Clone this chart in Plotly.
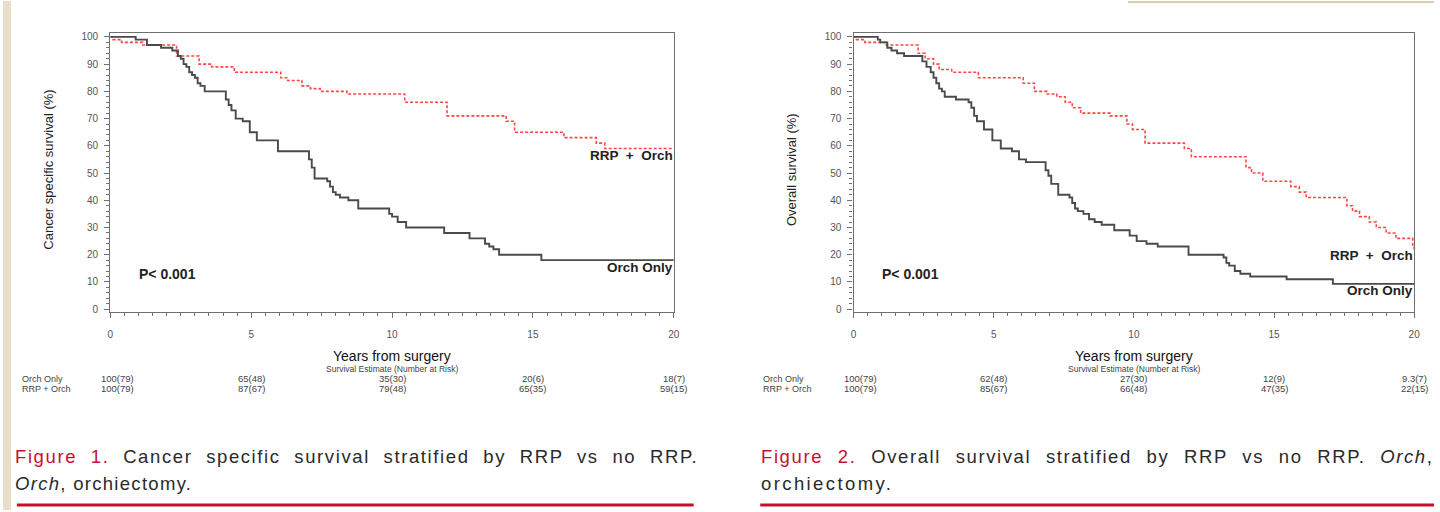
import plotly.graph_objects as go

# ---------------- data ----------------
years_ticks = [0, 5, 10, 15, 20]

# Figure 1: cancer specific survival
css_orch_t = [0, 0.9, 1.3, 1.8, 2.2, 2.4, 2.5, 2.6, 2.7, 2.8, 2.9, 3.0, 3.1, 3.2, 3.35, 4.1, 4.2, 4.3, 4.45,
              4.7, 4.95, 5.2, 5.95, 7.05, 7.15, 7.25, 7.7, 7.8, 7.9, 8.0, 8.15, 8.45, 8.8, 9.9, 10.0, 10.2,
              10.5, 11.85, 12.75, 13.3, 13.45, 13.6, 13.8, 15.3, 20]
css_orch_s = [100, 99, 97, 96, 95, 93, 92, 90, 89, 87, 86, 85, 83, 82, 80, 77, 75, 73, 70,
              69, 65, 62, 58, 55, 52, 48, 47, 45, 43, 42, 41, 40, 37, 35, 34, 32,
              30, 28, 26, 24, 23, 22, 20, 18, 18]
css_rrp_t = [0, 0.1, 0.4, 1.15, 2.35, 3.15, 3.6, 4.4, 6.05, 6.3, 6.8, 7.1, 7.45, 8.4, 10.45, 11.95, 14.05,
             14.35, 16.1, 17.25, 17.55, 20]
css_rrp_s = [100, 99, 98, 97, 93, 90, 89, 87, 85, 84, 82, 81, 80, 79, 76, 71, 69,
             65, 63, 61, 59, 59]

# Figure 2: overall survival
os_orch_t = [0, 0.86, 0.95, 1.2, 1.35, 1.55, 1.8, 2.45, 2.6, 2.75, 2.85, 2.95, 3.05, 3.15, 3.25, 3.65, 4.1,
             4.2, 4.3, 4.4, 4.65, 4.95, 5.25, 5.65, 5.9, 6.15, 6.85, 6.95, 7.05, 7.3, 7.7, 7.8, 7.9, 8.0,
             8.2, 8.4, 8.6, 8.85, 9.3, 9.85, 10.1, 10.45, 10.85, 11.95, 13.2, 13.3, 13.4, 13.6, 13.8,
             14.15, 15.45, 17.1, 20]
os_orch_s = [100, 99, 98, 96, 95, 94, 93, 91, 89, 87, 85, 83, 81, 80, 78, 77, 76,
             74, 71, 69, 66, 62, 59, 58, 55, 54, 51, 49, 46, 42, 41, 39, 37, 36,
             35, 33, 32, 31, 29, 27, 25, 24, 23, 20, 19, 17, 16, 14, 13,
             12, 11, 9.3, 9.3]
os_rrp_t = [0, 0.1, 0.4, 1.15, 2.3, 2.55, 2.85, 3.05, 3.5, 4.45, 6.05, 6.45, 6.9, 7.25, 7.55, 7.8, 8.1,
            9.15, 9.75, 9.95, 10.4, 11.8, 12.05, 14.0, 14.2, 14.6, 15.6, 15.9, 16.15, 17.6, 17.8, 18.05,
            18.4, 18.65, 19.0, 19.35, 19.95, 20]
os_rrp_s = [100, 99, 98, 97, 94, 92, 90, 88, 87, 85, 83, 80, 79, 78, 76, 74, 72,
            71, 68, 66, 61, 59, 56, 52, 50, 47, 45, 43, 41, 38, 36, 34,
            32, 30, 28, 26, 23, 22]

# number-at-risk tables
risk_groups = ["Orch Only", "RRP + Orch"]
fig1_risk_orch = ["100(79)", "65(48)", "35(30)", "20(6)", "18(7)"]
fig1_risk_rrp = ["100(79)", "87(67)", "79(48)", "65(35)", "59(15)"]
fig2_risk_orch = ["100(79)", "62(48)", "27(30)", "12(9)", "9.3(7)"]
fig2_risk_rrp = ["100(79)", "85(67)", "66(48)", "47(35)", "22(15)"]

# ---------------- helpers ----------------
W, H = 1440, 512


def px(p):
    return p / W


def py(p):
    return 1 - p / H


FONT = "Liberation Sans"
BLACK_LINE = "#4a4a4a"
RED_LINE = "#ff4646"
CAPTION_RED = "#c8102e"

fig = go.Figure()

for (xa, ya, ot, os_, rt, rs) in [("x", "y", css_orch_t, css_orch_s, css_rrp_t, css_rrp_s),
                                   ("x2", "y2", os_orch_t, os_orch_s, os_rrp_t, os_rrp_s)]:
    fig.add_trace(go.Scatter(x=rt, y=rs, mode="lines", line_shape="hv", xaxis=xa, yaxis=ya,
                             line=dict(color=RED_LINE, width=1.6, dash="3px,2px"), showlegend=False,
                             hoverinfo="skip"))
    fig.add_trace(go.Scatter(x=ot, y=os_, mode="lines", line_shape="hv", xaxis=xa, yaxis=ya,
                             line=dict(color=BLACK_LINE, width=1.9), showlegend=False, hoverinfo="skip"))

axis_common = dict(showgrid=False, zeroline=False, showline=True, linecolor="#707070", linewidth=1.4,
                   mirror=True, ticks="outside", tickcolor="#707070",
                   tickfont=dict(family=FONT, size=10, color="#555555"))

yr = [-1.1, 101.5]
ydom = [py(313), py(32)]
xminor = dict(dtick=0.5, ticklen=3, ticks="outside", tickcolor="#707070")
yminor = dict(dtick=2, ticklen=3, ticks="outside", tickcolor="#707070")

fig.update_layout(
    width=W, height=H, margin=dict(l=0, r=0, t=0, b=0),
    paper_bgcolor="white", plot_bgcolor="white",
    xaxis=dict(domain=[px(108), px(675)], range=[0, 20], tickvals=years_ticks, ticklen=5,
               ticklabelstandoff=8, minor=xminor, anchor="y", **axis_common),
    yaxis=dict(domain=ydom, range=yr, dtick=10, ticklen=5, ticklabelstandoff=4,
               minor=yminor, anchor="x", **axis_common),
    xaxis2=dict(domain=[px(856), px(1420)], range=[0, 20], tickvals=years_ticks, ticklen=5,
                ticklabelstandoff=8, minor=xminor, anchor="y2", **axis_common),
    yaxis2=dict(domain=ydom, range=yr, dtick=10, ticklen=5, ticklabelstandoff=4,
                minor=yminor, anchor="x2", **axis_common),
)

ann = []
shapes = []


def text(x, y, s, size, color="#222222", xanchor="center", yanchor="middle", xref="paper",
         yref="paper", angle=0, family=FONT, xshift=0):
    ann.append(dict(x=x, y=y, text=s, xref=xref, yref=yref, showarrow=False, xanchor=xanchor,
                    yanchor=yanchor, textangle=angle, xshift=xshift,
                    font=dict(family=family, size=size, color=color)))


panels = [
    dict(xa="x", ya="y", left=108, right=675, ytitle="Cancer specific survival (%)", ytx=45,
         rowlab_x=21, orch=fig1_risk_orch, rrp=fig1_risk_rrp, lab_rrp=56.6, lab_orch=15.3),
    dict(xa="x2", ya="y2", left=856, right=1420, ytitle="Overall survival (%)", ytx=793,
         rowlab_x=767, orch=fig2_risk_orch, rrp=fig2_risk_rrp, lab_rrp=19.7, lab_orch=6.9),
]

for p in panels:
    cx = px((p["left"] + p["right"]) / 2)
    text(px(p["ytx"]), py(170), p["ytitle"], 13, angle=-90)
    text(cx, py(357), "Years from surgery", 14, color="#111111")
    text(cx, py(370), "Survival Estimate (Number at Risk)", 8.5, color="#444444")
    text(1.05, 12.8, "<b>P&lt; 0.001</b>", 14, color="#222222", xanchor="left", xref=p["xa"],
         yref=p["ya"], xshift=-3)
    text(19.97, p["lab_rrp"], "<b>RRP  +  Orch</b>", 13.5, color="#222222", xanchor="right",
         xref=p["xa"], yref=p["ya"], xshift=2)
    text(19.97, p["lab_orch"], "<b>Orch Only</b>", 13.5, color="#222222", xanchor="right",
         xref=p["xa"], yref=p["ya"], xshift=2)
    # at-risk table
    text(px(p["rowlab_x"]), py(380), risk_groups[0], 9, color="#444444", xanchor="left", xshift=-4)
    text(px(p["rowlab_x"]), py(390), risk_groups[1], 9, color="#444444", xanchor="left", xshift=-4)
    for xv, a, b in zip(years_ticks, p["orch"], p["rrp"]):
        ann.append(dict(x=xv, y=py(380), xref=p["xa"], yref="paper", text=a, showarrow=False,
                        xanchor="center", yanchor="middle", xshift=7 if xv == 0 else 0,
                        font=dict(family=FONT, size=9.5, color="#444444")))
        ann.append(dict(x=xv, y=py(390), xref=p["xa"], yref="paper", text=b, showarrow=False,
                        xanchor="center", yanchor="middle", xshift=7 if xv == 0 else 0,
                        font=dict(family=FONT, size=9.5, color="#444444")))

# captions (justified-looking spacing)
CAP = 18.5


def spaced(s, ls, ws):
    return f"<span style='letter-spacing:{ls}px;word-spacing:{ws}px'>{s}</span>"


text(px(14), py(458),
     spaced(f"<span style='color:{CAPTION_RED}'>Figure 1.</span> Cancer specific survival "
            "stratified by RRP vs no RRP.", 1.6, 7), CAP, color="#2a2a2a", xanchor="left", xshift=-4)
text(px(14), py(485), spaced("<i>Orch</i>, orchiectomy.", 1.3, 0), CAP, color="#2a2a2a",
     xanchor="left", xshift=-4)
text(px(762), py(458),
     spaced(f"<span style='color:{CAPTION_RED}'>Figure 2.</span> Overall survival "
            "stratified by RRP vs no RRP. <i>Orch</i>,", 1.6, 8), CAP, color="#2a2a2a",
     xanchor="left", xshift=-1)
text(px(762), py(485), spaced("orchiectomy.", 2.4, 0), CAP, color="#2a2a2a", xanchor="left", xshift=-1)

# decorative rules / page edge
shapes.append(dict(type="line", xref="paper", yref="paper", x0=px(14), x1=px(695), y0=py(507),
                   y1=py(507), line=dict(color=CAPTION_RED, width=3)))
shapes.append(dict(type="line", xref="paper", yref="paper", x0=px(762), x1=1, y0=py(507),
                   y1=py(507), line=dict(color=CAPTION_RED, width=3)))
shapes.append(dict(type="rect", xref="paper", yref="paper", x0=0, x1=px(8), y0=0, y1=1,
                   fillcolor="#e8dec9", line=dict(width=0), layer="below"))
shapes.append(dict(type="rect", xref="paper", yref="paper", x0=px(1132), x1=1, y0=py(2), y1=1,
                   fillcolor="#ddd1b0", line=dict(width=0)))

fig.update_layout(annotations=ann, shapes=shapes)
fig.write_html("out.html")
